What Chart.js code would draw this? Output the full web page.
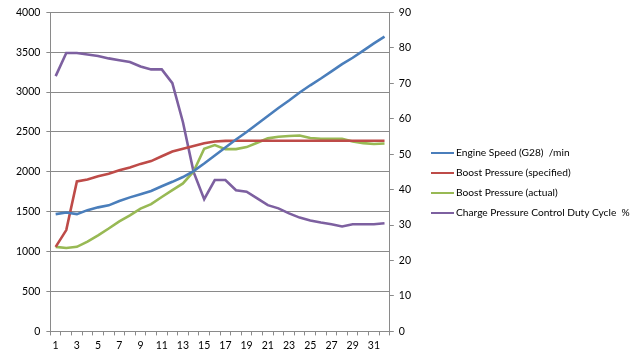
<!DOCTYPE html>
<html>
<head>
<meta charset="utf-8">
<title>Boost pressure log</title>
<script src="https://cdn.jsdelivr.net/npm/chart.js@4.4.1/dist/chart.umd.min.js"></script>
<style>
    html, body { margin: 0; padding: 0; background: #fff; }
    #wrap { position: relative; width: 640px; height: 358px; }
    #legend { position: absolute; left: 431px; top: 142px; margin: 0; padding: 0; list-style: none;
              font-family: Lato, "Liberation Sans", sans-serif; font-size: 10.2px; color: #000; }
    #legend li { height: 20px; line-height: 20px; white-space: pre; }
    #legend span { display: inline-block; width: 23px; height: 2px; vertical-align: middle; margin-right: 2px; }
</style>
</head>
<body>
<div id="wrap"><canvas id="chart"></canvas><ul id="legend"></ul></div>
<script>
// measurement points 1..32
var samples = [];
for (var n = 1; n <= 32; n++) samples.push(String(n));

var engineSpeed = [1470, 1490, 1470, 1520, 1555, 1580, 1635, 1680, 1720, 1760, 1820, 1875, 1935, 2010, 2105, 2205,
                   2305, 2405, 2500, 2600, 2700, 2800, 2895, 2995, 3085, 3170, 3260, 3350, 3430, 3520, 3610, 3695];
var boostSpecified = [1060, 1270, 1880, 1905, 1945, 1975, 2020, 2055, 2100, 2135, 2195, 2255, 2290, 2325, 2358, 2380,
                      2388, 2390, 2390, 2390, 2390, 2390, 2390, 2390, 2390, 2390, 2390, 2390, 2390, 2390, 2390, 2390];
var boostActual = [1060, 1045, 1060, 1125, 1205, 1290, 1380, 1455, 1540, 1595, 1685, 1770, 1855, 2005, 2290, 2335,
                   2285, 2285, 2310, 2365, 2420, 2440, 2450, 2455, 2425, 2415, 2415, 2415, 2380, 2360, 2350, 2355];
var dutyCycle = [72, 78.5, 78.5, 78.1, 77.7, 77, 76.5, 76, 74.7, 73.9, 73.9, 70, 59, 45, 37.3, 42.7,
                 42.7, 39.8, 39.4, 37.5, 35.6, 34.7, 33.3, 32.1, 31.3, 30.7, 30.2, 29.6, 30.2, 30.2, 30.2, 30.5];

var seriesNames = ['Engine Speed (G28)  /min', 'Boost Pressure (specified)', 'Boost Pressure (actual)',
                   'Charge Pressure Control Duty Cycle  %'];
var seriesColors = ['#4a7ebb', '#be4b48', '#98b954', '#7d60a0'];

var gridGrey = '#8a8a8a';
var font = { family: 'Lato, "Liberation Sans", sans-serif', size: 10.5 };

function makeLine(i, data, axis) {
    return {
        label: seriesNames[i],
        data: data,
        yAxisID: axis,
        borderColor: seriesColors[i],
        backgroundColor: seriesColors[i],
        borderWidth: 2.6,
        pointRadius: 0,
        tension: 0
    };
}

var chart = new Chart(document.getElementById('chart').getContext('2d'), {
    type: 'line',
    data: {
        labels: samples,
        datasets: [
            makeLine(0, engineSpeed, 'y'),
            makeLine(1, boostSpecified, 'y'),
            makeLine(2, boostActual, 'y'),
            makeLine(3, dutyCycle, 'y1')
        ]
    },
    options: {
        responsive: true,
        maintainAspectRatio: false,
        animation: false,
        layout: { padding: { left: 10, top: 1, right: 224, bottom: 2 } },
        plugins: {
            tooltip: { enabled: false },
            legend: { display: false }
        },
        scales: {
            x: {
                offset: true,
                grid: { offset: true, drawOnChartArea: false, tickLength: 4, color: gridGrey },
                border: { color: gridGrey },
                ticks: {
                    autoSkip: false,
                    maxRotation: 0,
                    color: '#000',
                    font: font,
                    padding: 4,
                    callback: function (v, i) { return i % 2 == 0 ? samples[i] : ''; }
                }
            },
            y: {
                position: 'left',
                min: 0,
                max: 4000,
                ticks: { stepSize: 500, color: '#000', font: font, padding: 6,
                         callback: function (v) { return String(v); } },
                grid: { color: gridGrey, tickLength: 4 },
                border: { color: gridGrey }
            },
            y1: {
                position: 'right',
                min: 0,
                max: 90,
                ticks: { stepSize: 10, color: '#000', font: font, padding: 5 },
                grid: { drawOnChartArea: false, tickLength: 4, color: gridGrey },
                border: { color: gridGrey }
            }
        }
    }
});

// legend drawn as a plain list beside the plot
var legend = document.getElementById('legend');
chart.data.datasets.forEach(function (ds) {
    var li = document.createElement('li');
    var swatch = document.createElement('span');
    swatch.style.background = ds.borderColor;
    li.appendChild(swatch);
    li.appendChild(document.createTextNode(ds.label));
    legend.appendChild(li);
});
</script>
</body>
</html>
